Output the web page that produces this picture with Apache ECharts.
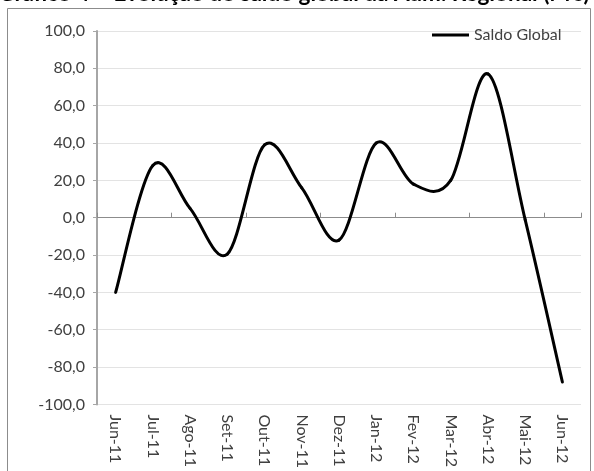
<!DOCTYPE html>
<html>
<head>
<meta charset="utf-8">
<script src="https://cdn.jsdelivr.net/npm/echarts@6/dist/echarts.min.js"></script>
<style>html,body{margin:0;padding:0;background:#fff;}#c{width:594px;height:471px;}</style>
</head>
<body>
<div id="c"></div>
<script>
const titleText = 'Gráfico 4 – Evolução do saldo global da Adm. Regional (M€)';
const categories = ['Jun-11','Jul-11','Ago-11','Set-11','Out-11','Nov-11','Dez-11','Jan-12','Fev-12','Mar-12','Abr-12','Mai-12','Jun-12'];
const saldoGlobal = [-40, 28, 5, -19.5, 39, 16, -12, 40, 18, 20, 77, -1, -88];
const seriesName = 'Saldo Global';
const yMin = -100, yMax = 100, yStep = 20;

const chart = echarts.init(document.getElementById('c'), null, {renderer: 'canvas'});
const font = 'Lato, "Open Sans", sans-serif';

// Excel-style smoothed line: cubic Bezier segments through the data points,
// positions taken from the chart's own axes via api.coord.
function renderSmooth(params, api) {
  const i = params.dataIndex;
  const n = saldoGlobal.length;
  if (i >= n - 1) return null;
  const P = k => {
    const j = Math.max(0, Math.min(n - 1, k));
    return api.coord([j, saldoGlobal[j]]);
  };
  const p0 = P(i - 1), p1 = P(i), p2 = P(i + 1), p3 = P(i + 2);
  return {
    type: 'bezierCurve',
    shape: {
      x1: p1[0], y1: p1[1], x2: p2[0], y2: p2[1],
      cpx1: p1[0] + (p2[0] - p0[0]) / 6, cpy1: p1[1] + (p2[1] - p0[1]) / 6,
      cpx2: p2[0] - (p3[0] - p1[0]) / 6, cpy2: p2[1] - (p3[1] - p1[1]) / 6
    },
    style: {stroke: '#000', lineWidth: 3, fill: null, lineCap: 'round'}
  };
}

chart.setOption({
  animation: false,
  backgroundColor: '#fff',
  graphic: [
    {type: 'rect', shape: {x: 7.5, y: 8.5, width: 583, height: 480}, style: {fill: 'none', stroke: '#8c8c8c', lineWidth: 1}, silent: true},
    {type: 'text', x: 294, y: 5, style: {text: titleText, textAlign: 'center', textVerticalAlign: 'bottom', font: 'bold 22.5px ' + font, fill: '#000'}}
  ],
  grid: {left: 97, right: 13, top: 31, bottom: 66, containLabel: false},
  legend: {
    data: [{name: seriesName, icon: 'rect'}], left: 432, top: 27, padding: 0,
    itemWidth: 37, itemHeight: 3,
    textStyle: {fontFamily: font, fontSize: 16, color: '#404040'}
  },
  xAxis: [
    {
      type: 'category', data: categories, boundaryGap: true, position: 'bottom',
      axisLine: {show: false, onZero: false}, axisTick: {show: false},
      axisLabel: {rotate: -90, margin: 10, fontFamily: font, fontSize: 16, color: '#404040', interval: 0}
    },
    {
      type: 'category', data: categories, boundaryGap: true, position: 'bottom',
      axisLine: {show: true, onZero: true, lineStyle: {color: '#8c8c8c', width: 1}},
      axisTick: {show: true, inside: true, length: 5, lineStyle: {color: '#8c8c8c'}},
      axisLabel: {show: false}
    }
  ],
  yAxis: {
    type: 'value', min: yMin, max: yMax, interval: yStep,
    axisLine: {show: true, lineStyle: {color: '#a6a6a6', width: 2}},
    axisTick: {show: true, length: 4, lineStyle: {color: '#a6a6a6'}},
    splitLine: {show: true, lineStyle: {color: '#e3e3e3', width: 1}},
    axisLabel: {margin: 12, fontFamily: font, fontSize: 16, color: '#404040',
      formatter: v => v.toFixed(1).replace('.', ',')}
  },
  series: [{
    name: seriesName, type: 'custom', xAxisIndex: 0, yAxisIndex: 0,
    data: saldoGlobal.map((v, i) => [i, v]),
    encode: {x: 0, y: 1},
    itemStyle: {color: '#000'},
    renderItem: renderSmooth
  }]
});
</script>
</body>
</html>
